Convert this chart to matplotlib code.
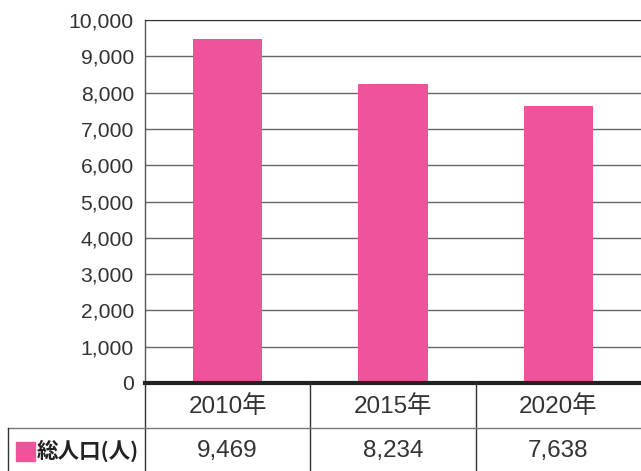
import matplotlib.pyplot as plt
from matplotlib.patches import Rectangle
from matplotlib.ticker import FuncFormatter

plt.rcParams['font.family'] = ['Liberation Sans', 'Noto Sans CJK JP', 'DejaVu Sans']

years = ["2010年", "2015年", "2020年"]
population = [9469, 8234, 7638]
row_label = "総人口(人)"
bar_color = "#EE5499"
text_color = "#333333"

W, H = 641, 471
fig = plt.figure(figsize=(W / 100, H / 100), dpi=100)

# axes box in pixel coords
x0, x1, ytop, ybot = 145, 641, 20, 383
ax = fig.add_axes([x0 / W, 1 - ybot / H, (x1 - x0) / W, (ybot - ytop) / H])

xs = range(len(years))
ax.bar(xs, population, width=0.42, color=bar_color, zorder=3)
ax.set_xlim(-0.5, len(years) - 0.5)
ax.set_ylim(0, 10000)
ax.set_yticks(range(0, 10001, 1000))
ax.yaxis.set_major_formatter(FuncFormatter(lambda v, p: f"{int(v):,}"))
ax.tick_params(axis='y', length=0, pad=8, labelsize=15.2, labelcolor=text_color)
ax.set_xticks([])
ax.grid(axis='y', color='#666666', linewidth=1.0, zorder=1)
for s in ['right', 'bottom']:
    ax.spines[s].set_visible(False)
ax.spines['top'].set_color('#333333')
ax.spines['left'].set_color('#555555')
ax.spines['left'].set_linewidth(1.0)
ax.axhline(0, color='#222222', linewidth=3, zorder=4, clip_on=False)


# table below the chart, in figure pixel coords
def fx(px):
    return px / W


def fy(py):
    return 1 - py / H


line_kw = dict(color='#333333', linewidth=1.0, transform=fig.transFigure)
row_y = 428
col_w = (x1 - x0) / len(years)
fig.add_artist(plt.Line2D([fx(x0), fx(x0)], [fy(ybot), fy(H)], **line_kw))
for i in range(1, len(years)):
    xb = x0 + col_w * i
    fig.add_artist(plt.Line2D([fx(xb), fx(xb)], [fy(ybot), fy(H)], **line_kw))
fig.add_artist(plt.Line2D([fx(8), fx(W)], [fy(row_y), fy(row_y)], color='#777777',
                          linewidth=1.0, transform=fig.transFigure))
fig.add_artist(plt.Line2D([fx(8), fx(8)], [fy(row_y), fy(H)], **line_kw))

for i, (yr, val) in enumerate(zip(years, population)):
    cx = x0 + col_w * (i + 0.5)
    fig.text(fx(cx), fy(407), yr, ha='center', va='center', fontsize=17.5, color=text_color)
    fig.text(fx(cx), fy(451), f"{val:,}", ha='center', va='center', fontsize=17.5, color=text_color)

fig.add_artist(Rectangle((fx(16), fy(461)), 19 / W, 19 / H, color=bar_color,
                         transform=fig.transFigure))
fig.text(fx(37), fy(451), row_label, ha='left', va='center', fontsize=15.5,
         color='#222222', fontweight='bold', family=['Noto Sans CJK JP', 'DejaVu Sans'])

fig.savefig("out.png", dpi=100)
